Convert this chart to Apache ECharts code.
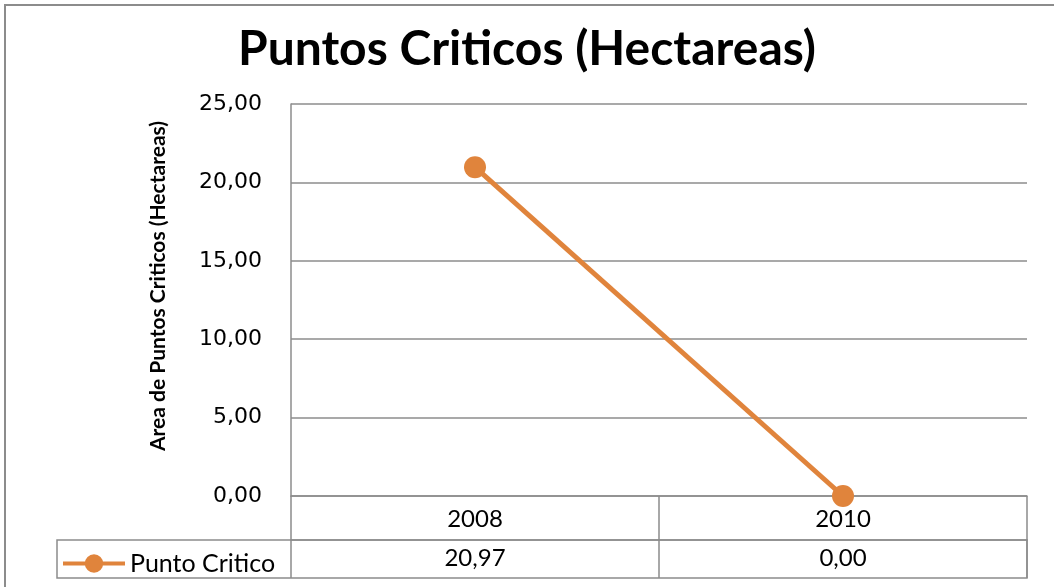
<!DOCTYPE html>
<html>
<head>
<meta charset="utf-8">
<script src="https://cdn.jsdelivr.net/npm/echarts@6/dist/echarts.min.js"></script>
<style>
html,body{margin:0;padding:0;background:#fff;}
#chart{width:1054px;height:587px;}
</style>
</head>
<body>
<div id="chart"></div>
<script>
// datos
var years=['2008','2010'];
var puntoCritico=[20.97,0.00];
var serieNombre='Punto Critico';

var naranja='#E0843C';
var gris='#8c8c8c';

function fmt(v){
	return Number(v).toFixed(2).replace('.',',');
}

var chart=echarts.init(document.getElementById('chart'));
var option={
	backgroundColor:'#ffffff',
	animation:false,
	title:{
		text:'Puntos Criticos (Hectareas)',
		left:'center',
		top:21,
		textStyle:{fontFamily:'Lato',fontWeight:'bold',fontSize:48,color:'#000'}
	},
	legend:{
		data:[serieNombre],
		left:56,
		top:546,
		itemWidth:62,
		itemHeight:23,
		itemGap:2,
		lineStyle:{width:4},
		textStyle:{fontFamily:'Lato',fontSize:25,color:'#000'}
	},
	grid:{left:291,right:27,top:104,bottom:91},
	xAxis:[
		{
			type:'category',
			data:years,
			boundaryGap:true,
			axisLine:{show:true,lineStyle:{color:gris,width:1.5}},
			axisTick:{show:true,length:82,lineStyle:{color:gris,width:1.5}},
			axisLabel:{margin:11,fontFamily:'Lato',fontSize:24,color:'#000'}
		},
		{
			type:'category',
			data:years,
			position:'bottom',
			offset:44,
			boundaryGap:true,
			axisLine:{show:true,lineStyle:{color:gris,width:1.5}},
			axisTick:{show:false},
			axisLabel:{
				margin:6,fontFamily:'Lato',fontSize:24,color:'#000',
				formatter:function(v,i){return fmt(puntoCritico[i]);}
			}
		}
	],
	yAxis:{
		type:'value',
		min:0,
		max:25,
		interval:5,
		name:'Area de Puntos Criticos (Hectareas)',
		nameLocation:'middle',
		nameRotate:90,
		nameGap:122,
		nameTextStyle:{fontFamily:'Lato',fontWeight:'bold',fontSize:21,color:'#000',padding:[0,0,0,28]},
		axisLine:{show:true,lineStyle:{color:gris,width:1.5}},
		axisTick:{show:false},
		splitLine:{lineStyle:{color:gris,width:1.5}},
		axisLabel:{
			margin:29,fontFamily:'DejaVu Sans',fontSize:22,color:'#000',
			formatter:function(v){return fmt(v);}
		}
	},
	series:[
		{
			name:serieNombre,
			type:'line',
			data:puntoCritico,
			symbol:'circle',
			symbolSize:22,
			lineStyle:{color:naranja,width:5},
			itemStyle:{color:naranja}
		}
	],
	graphic:[
		{
			type:'rect',
			shape:{x:5,y:5,width:1060,height:600},
			style:{fill:'none',stroke:gris,lineWidth:2},
			silent:true
		},
		{
			type:'rect',
			shape:{x:57,y:540,width:970,height:38},
			style:{fill:'none',stroke:gris,lineWidth:1.5},
			silent:true
		}
	]
};
chart.setOption(option);
</script>
</body>
</html>
